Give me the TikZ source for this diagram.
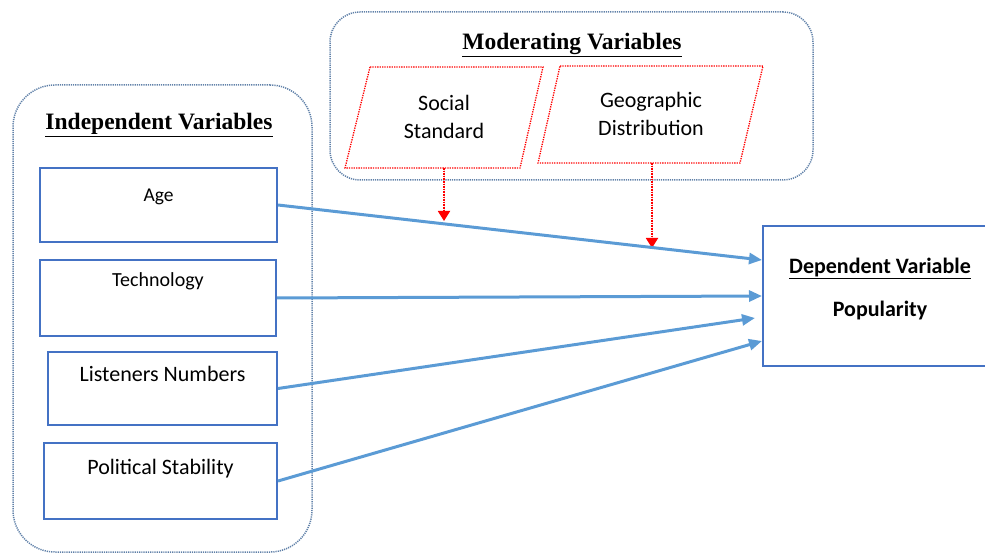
\documentclass[tikz,border=0pt]{standalone}
\usepackage{fontspec}
\setmainfont{Liberation Serif}
\newfontfamily\calfont{Carlito}
\usetikzlibrary{arrows.meta}
\definecolor{grpcol}{HTML}{5F80A8}
\definecolor{boxblue}{HTML}{4472C4}
\definecolor{arrblue}{HTML}{5B9BD5}
\definecolor{modred}{HTML}{FF0000}
\begin{document}
\begin{tikzpicture}[x=1pt,y=-1pt,
  grpbox/.style={draw=grpcol,line width=1.5pt,dash pattern=on 1.2pt off 1pt,rectangle},
  titletext/.style={font=\bfseries\fontsize{23.5}{26}\selectfont,inner sep=0pt},
  varbox/.style={draw=boxblue,line width=2pt,rectangle,inner sep=0pt},
  modtext/.style={align=center,font=\calfont\fontsize{22}{28}\selectfont,inner sep=0pt},
  modline/.style={draw=modred,line width=1.3pt,dash pattern=on 1.3pt off 1.1pt,line join=miter},
  modarrow/.style={draw=modred,line width=1.8pt,dash pattern=on 1.6pt off 1pt,-{Triangle[length=10pt,width=12pt]},fill=modred},
  flow/.style={draw=arrblue,line width=3pt,-{Triangle[length=13pt,width=11pt]}}
]
\useasboundingbox (0,0) rectangle (985,553);

% group frames
\node[grpbox,rounded corners=42pt,minimum width=299pt,minimum height=467pt] (indgrp) at (162.5,318.5) {};
\node[grpbox,rounded corners=30pt,minimum width=483pt,minimum height=168pt] (modgrp) at (571.5,96) {};

% titles
\node[titletext,anchor=base] (indtitle) at (159,130) {\underline{Independent Variables}};
\node[titletext,anchor=base] (modtitle) at (572,50) {\underline{Moderating Variables}};

% independent variable boxes
\node[varbox,minimum width=237pt,text height=34pt,text depth=40pt,font=\calfont\fontsize{19.5}{22}\selectfont] (age) at (158.5,205) {Age};
\node[varbox,minimum width=236pt,text height=27pt,text depth=49pt,font=\calfont\fontsize{20}{22}\selectfont] (tech) at (158,298) {Technology};
\node[varbox,minimum width=229pt,text height=29pt,text depth=44pt,font=\calfont\fontsize{22}{26}\selectfont] (listen) at (162.5,388.5) {Listeners Numbers};
\node[varbox,minimum width=233pt,text height=31pt,text depth=45pt,font=\calfont\fontsize{22}{26}\selectfont] (polit) at (160.5,481) {Political Stability};

% dependent variable
\node[varbox,minimum width=234pt,minimum height=140pt,align=center,font=\calfont\bfseries\fontsize{22}{26}\selectfont] (dep) at (880,296) {\underline{Dependent Variable}\\[17pt]Popularity\rule[-18pt]{0pt}{1pt}};

% moderating variables
\node[modtext] (soc) at (444,116.5) {Social\\Standard};
\draw[modline] (370,67) -- (543,67) -- (520,168) -- (345,168) -- cycle;
\node[modtext] (geo) at (651,113.5) {Geographic\\Distribution};
\draw[modline] (560,66) -- (763,66) -- (740,163) -- (538,163) -- cycle;

\coordinate (socb) at (444,168);
\coordinate (m1) at (444,221);
\coordinate (geob) at (652,163);
\coordinate (m2) at (652,248);
\draw[modarrow] (socb) -- (m1);
\draw[modarrow] (geob) -- (m2);

% flows
\coordinate (d1) at (762,260);
\coordinate (d2) at (762,296);
\coordinate (d3) at (755,318);
\coordinate (d4) at (762,341);
\draw[flow] (age.east) -- (d1);
\draw[flow] (tech.east) -- (d2);
\draw[flow] (listen.east) -- (d3);
\draw[flow] (polit.east) -- (d4);
\end{tikzpicture}
\end{document}
